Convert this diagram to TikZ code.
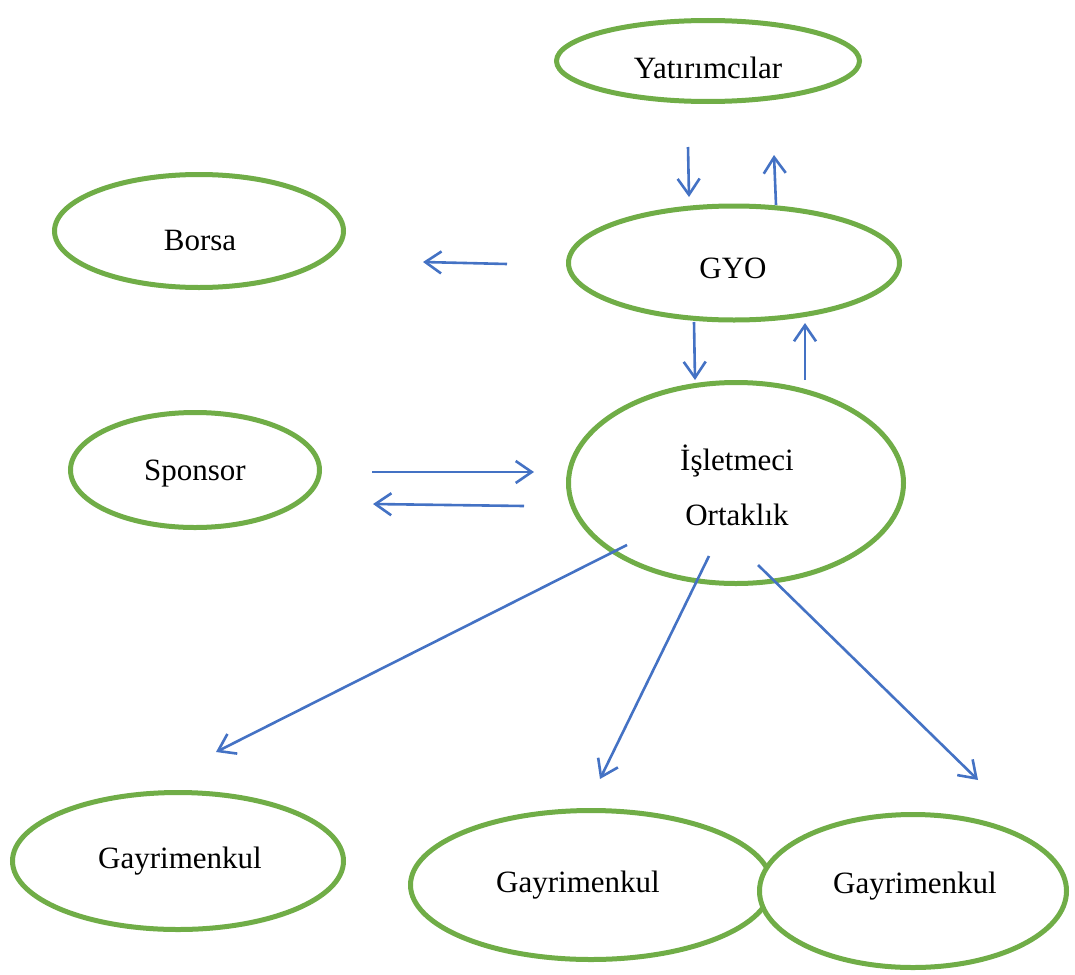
\documentclass[tikz,border=0pt]{standalone}
\usepackage{fontspec}
\setmainfont{Liberation Serif}
\usepackage{tikz}
\usetikzlibrary{arrows.meta,shapes.geometric}
\definecolor{leafgreen}{RGB}{112,173,71}
\definecolor{flowblue}{RGB}{68,114,196}
\tikzset{
  party/.style ={ellipse, draw=leafgreen, line width=5pt, fill=white, inner sep=0pt},
  ptext/.style ={align=center, font=\fontsize{31}{55}\selectfont, inner sep=0pt},
  flow/.style  ={-{Straight Barb[length=16pt,width=22pt,line width=2.6pt]}, draw=flowblue, line width=2.6pt},
}
\begin{document}
\begin{tikzpicture}[x=1pt,y=-1pt]
\useasboundingbox (0,0) rectangle (1075,974);
% actors
\node[party,minimum width=303pt,minimum height=81pt]  (yatirim) at (708,61)  {};
\node[party,minimum width=289pt,minimum height=113pt] (borsa)   at (199,231) {};
\node[party,minimum width=331pt,minimum height=114pt] (gyo)     at (734,263) {};
\node[party,minimum width=249pt,minimum height=115pt] (sponsor) at (195,470) {};
\node[party,minimum width=335pt,minimum height=201pt] (isletme) at (736,483) {};
\node[party,minimum width=331pt,minimum height=137pt] (gay1)    at (178,861) {};
\node[party,minimum width=361pt,minimum height=149pt] (gay2)    at (591,885) {};
\node[party,minimum width=307pt,minimum height=153pt] (gay3)    at (913,891) {};
% names, a little off centre as in the drawing
\node[ptext] (yatirimT) at ([shift={(0,7)}]yatirim)  {Yatırımcılar};
\node[ptext] (borsaT)   at ([shift={(1,9)}]borsa)    {Borsa};
\node[ptext] (gyoT)     at ([shift={(-1,5)}]gyo)     {GYO};
\node[ptext] (sponsorT) at ([shift={(0,4)}]sponsor)  {Sponsor};
\node[ptext] (isletmeT) at ([shift={(1,2)}]isletme)  {İşletmeci\\Ortaklık};
\node[ptext] (gay1T)    at ([shift={(2,0)}]gay1)     {Gayrimenkul};
\node[ptext] (gay2T)    at ([shift={(-13,0)}]gay2)   {Gayrimenkul};
\node[ptext] (gay3T)    at ([shift={(2,-5)}]gay3)    {Gayrimenkul};
% arrow ends
\coordinate (yd1) at (688,147);  \coordinate (yd2) at (689,197);
\coordinate (yu1) at (776,205);  \coordinate (yu2) at (774,155);
\coordinate (bo1) at (507,264);  \coordinate (bo2) at (423,262);
\coordinate (gd1) at (694,322);  \coordinate (gd2) at (695,380);
\coordinate (gu1) at (805,380);  \coordinate (gu2) at (805,323);
\coordinate (sr1) at (372,472);  \coordinate (sr2) at (534,472);
\coordinate (sl1) at (524,506);  \coordinate (sl2) at (373,504);
\coordinate (g11) at (627,545);  \coordinate (g12) at (216,752);
\coordinate (g21) at (709,556);  \coordinate (g22) at (600,779);
\coordinate (g31) at (758,565);  \coordinate (g32) at (978,780);
% flows
\draw[flow] (yd1) -- (yd2);
\draw[flow] (yu1) -- (yu2);
\draw[flow] (bo1) -- (bo2);
\draw[flow] (gd1) -- (gd2);
\draw[flow] (gu1) -- (gu2);
\draw[flow] (sr1) -- (sr2);
\draw[flow] (sl1) -- (sl2);
\draw[flow] (g11) -- (g12);
\draw[flow] (g21) -- (g22);
\draw[flow] (g31) -- (g32);
\end{tikzpicture}
\end{document}
